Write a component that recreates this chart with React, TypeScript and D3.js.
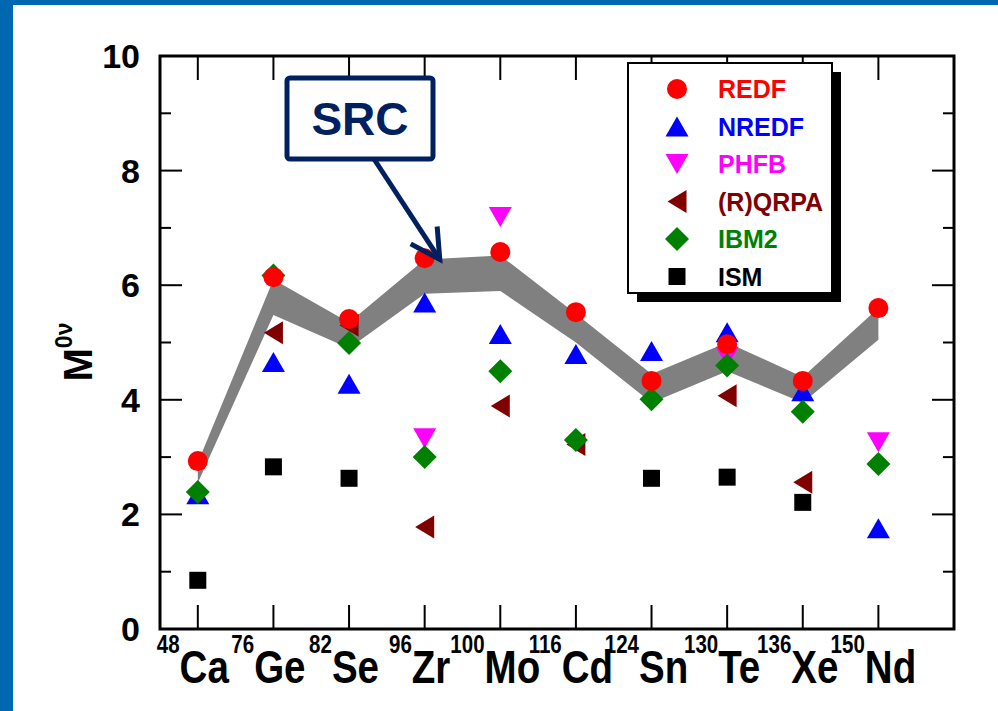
import React from 'react';
import * as d3 from 'd3';

const nuclei = ["Ca", "Ge", "Se", "Zr", "Mo", "Cd", "Sn", "Te", "Xe", "Nd"];
const massNumbers = ["48", "76", "82", "96", "100", "116", "124", "130", "136", "150"];

const redf = [2.93, 6.14, 5.41, 6.47, 6.58, 5.53, 4.33, 4.97, 4.33, 5.6];
const nredf = [2.35, 4.66, 4.28, 5.7, 5.15, 4.8, 4.85, 5.18, 4.15, 1.76];
const phfb: (number | null)[] = [null, null, null, 3.33, 7.19, null, null, 4.75, null, 3.26];
const qrpa: (number | null)[] = [null, 5.17, 5.3, 1.78, 3.89, 3.22, null, 4.07, 2.56, null];
const ibm2 = [2.39, 6.17, 4.99, 3.0, 4.5, 3.3, 4.01, 4.6, 3.79, 2.88];
const ism: (number | null)[] = [0.85, 2.83, 2.63, null, null, null, 2.63, 2.65, 2.21, null];

const bandUpper = [2.9, 6.1, 5.35, 6.45, 6.52, 5.5, 4.45, 5.0, 4.4, 5.6];
const bandLower = [2.55, 5.48, 4.9, 5.85, 5.9, 5.0, 3.95, 4.5, 3.95, 5.05];

const yMajorTicks = [0, 2, 4, 6, 8, 10];
const yMinorTicks = [1, 3, 5, 7, 9];

const legendNames = ["REDF", "NREDF", "PHFB", "(R)QRPA", "IBM2", "ISM"];
const seriesColors = ["#ff0000", "#0000ff", "#ff00ff", "#800000", "#008000", "#000000"];
const seriesShapes = ["circle", "up", "down", "left", "diamond", "square"];
const seriesValues = [redf, nredf, phfb, qrpa, ibm2, ism];
// drawing order (back to front)
const drawOrder = [5, 1, 2, 3, 4, 0];

const NAVY = "#002060";
const FONT = "'Liberation Sans', Arial, Helvetica, sans-serif";

function markerPath(shape: string): string {
  switch (shape) {
    case "circle":
      return "M10,0A10,10 0 1,1 -10,0A10,10 0 1,1 10,0Z";
    case "up":
      return "M0,-10L11.5,10L-11.5,10Z";
    case "down":
      return "M-11.5,-10L11.5,-10L0,10Z";
    case "left":
      return "M-9.5,0L9.5,-11.5L9.5,11.5Z";
    case "diamond":
      return "M0,-12L12,0L0,12L-12,0Z";
    case "square":
      return "M-8.5,-8.5H8.5V8.5H-8.5Z";
  }
  return "";
}

export default function App() {
  const W = 998, H = 711;
  const left = 160, right = 954, top = 56, bottom = 629;
  const x = d3.scaleLinear().domain([-0.5, 10]).range([left, right]);
  const y = d3.scaleLinear().domain([0, 10]).range([bottom, top]);

  const area = d3.area<number>()
    .x((_, i) => x(i))
    .y0((_, i) => y(bandLower[i]))
    .y1((d) => y(d));

  const tip = [x(3.2), y(6.45)];
  const tail = [374, 159];
  const ang = Math.atan2(tip[1] - tail[1], tip[0] - tail[0]);
  const armLen = 33;
  const arm1 = [tip[0] - armLen * Math.cos(ang - 0.5), tip[1] - armLen * Math.sin(ang - 0.5)];
  const arm2 = [tip[0] - armLen * Math.cos(ang + 0.5), tip[1] - armLen * Math.sin(ang + 0.5)];

  return (
    <svg width={W} height={H} style={{ position: 'absolute', left: 0, top: 0, background: '#fff' }} fontFamily={FONT}>
      <rect x={0} y={0} width={W} height={H} fill="#fff" />
      {/* blue frame */}
      <rect x={0} y={0} width={W} height={5} fill="#0068b0" />
      <rect x={0} y={0} width={13} height={H} fill="#0068b0" />

      {/* SRC band */}
      <path d={area(bandUpper) || ''} fill="#808080" />

      {/* axes frame */}
      <rect x={left} y={top} width={right - left} height={bottom - top} fill="none" stroke="#000" strokeWidth={3} />
      {nuclei.map((_, i) => (
        <g key={'xt' + i}>
          <line x1={x(i)} x2={x(i)} y1={bottom} y2={bottom - 24} stroke="#000" strokeWidth={2} />
          <line x1={x(i)} x2={x(i)} y1={top} y2={top + 24} stroke="#000" strokeWidth={2} />
        </g>
      ))}
      {yMajorTicks.map((t) => (
        <g key={'ym' + t}>
          <line x1={left} x2={left + 22} y1={y(t)} y2={y(t)} stroke="#000" strokeWidth={2} />
          <line x1={right} x2={right - 22} y1={y(t)} y2={y(t)} stroke="#000" strokeWidth={2} />
          <text x={140} y={y(t) + 12} textAnchor="end" fontSize={34} fontWeight="bold">{t}</text>
        </g>
      ))}
      {yMinorTicks.map((t) => (
        <g key={'yn' + t}>
          <line x1={left} x2={left + 11} y1={y(t)} y2={y(t)} stroke="#000" strokeWidth={2} />
          <line x1={right} x2={right - 11} y1={y(t)} y2={y(t)} stroke="#000" strokeWidth={2} />
        </g>
      ))}

      {/* x labels */}
      {nuclei.map((n, i) => (
        <g key={'xl' + i} transform={`translate(${x(i) - 5},683) scale(0.82,1)`}>
          <text textAnchor="middle" fontWeight="bold">
            <tspan fontSize={25} dy={-30}>{massNumbers[i]}</tspan>
            <tspan fontSize={47} dy={30}>{n}</tspan>
          </text>
        </g>
      ))}

      {/* y label */}
      <text transform="translate(92,352) rotate(-90)" textAnchor="middle" fontWeight="bold">
        <tspan fontSize={40}>M</tspan>
        <tspan fontSize={23} dy={-20}>0ν</tspan>
      </text>

      {/* markers */}
      {drawOrder.map((s) => (
        <g key={'s' + s} fill={seriesColors[s]}>
          {seriesValues[s].map((v, i) =>
            v == null ? null : (
              <path key={i} d={markerPath(seriesShapes[s])} transform={`translate(${x(i)},${y(v)})`} />
            )
          )}
        </g>
      ))}

      {/* legend */}
      <rect x={637} y={72} width={204} height={230} fill="#000" />
      <rect x={628} y={63} width={204} height={230} fill="#fff" stroke="#000" strokeWidth={2} />
      {legendNames.map((name, k) => (
        <g key={'lg' + k}>
          <path d={markerPath(seriesShapes[k])} fill={seriesColors[k]} transform={`translate(677,${89 + k * 37.5})`} />
          <text x={718} y={98 + k * 37.5} fontSize={25} fontWeight="bold" fill={seriesColors[k]}>{name}</text>
        </g>
      ))}

      {/* SRC annotation */}
      <rect x={287} y={78} width={146} height={81} rx={3} fill="#fff" stroke={NAVY} strokeWidth={5} />
      <text x={360} y={135} textAnchor="middle" fontSize={46} fontWeight="bold" fill={NAVY}>SRC</text>
      <line x1={tail[0]} y1={tail[1]} x2={tip[0]} y2={tip[1]} stroke={NAVY} strokeWidth={5} />
      <polyline points={`${arm1[0]},${arm1[1]} ${tip[0]},${tip[1]} ${arm2[0]},${arm2[1]}`} fill="none" stroke={NAVY} strokeWidth={5} strokeLinejoin="miter" />
    </svg>
  );
}
